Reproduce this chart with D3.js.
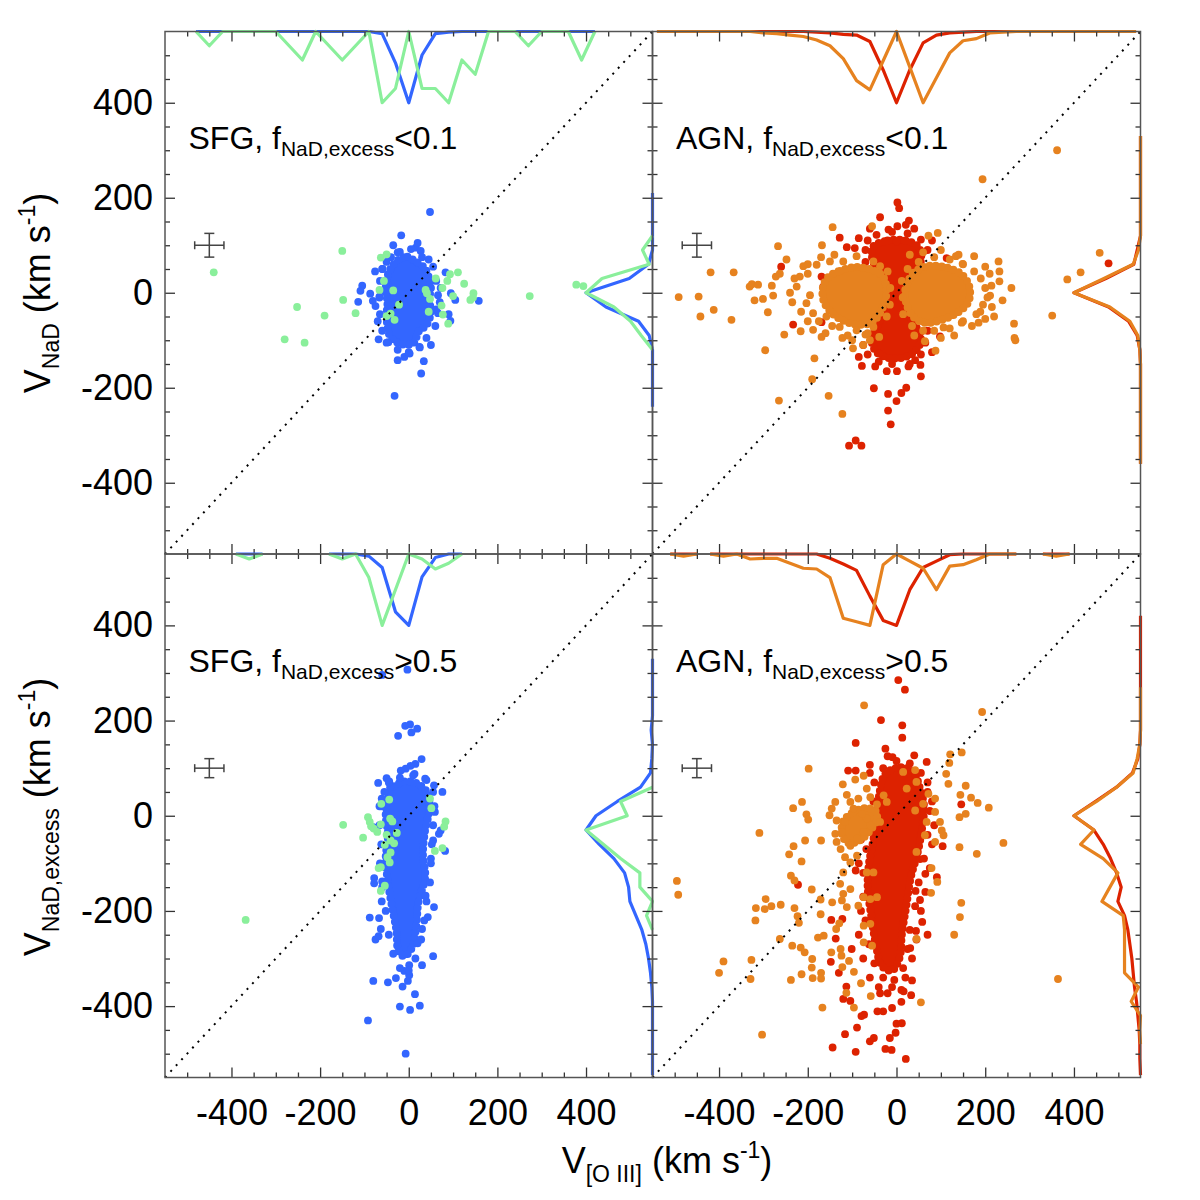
<!DOCTYPE html>
<html>
<head>
<meta charset="utf-8">
<script src="https://cdn.jsdelivr.net/npm/d3@7"></script>
<style>
  body { margin: 0; background: #fff; }
  text { font-family: "Liberation Sans", Arial, Helvetica, sans-serif; }
</style>
</head>
<body>
<svg id="chart" width="1200" height="1200"></svg>
<script>
// ---- axis values ----
const axisDomain = [-550, 550];
const majorTicks = [-400, -200, 0, 200, 400];
const minorTicks = [-500, -450, -350, -300, -250, -150, -100, -50, 50, 100, 150, 250, 300, 350, 450, 500];
const errCenter = [-450, 100];
const errTop = [33, 25];     // half widths (x, y) in km/s, upper row
const errBottom = [33, 20];  // lower row

// ---- top-left: SFG, f < 0.1 ----
const tlBlueCore = [[-25,68],[-3,76],[12,68],[36,52],[46,30],[50,10],[46,-15],[50,-40],[40,-68],[22,-82],[12,-105],[-5,-110],[-25,-105],[-42,-92],[-48,-72],[-50,-45],[-48,-20],[-52,5],[-48,35],[-40,52]];
const tlBlue = [[48,170],[-17,121],[-20,86],[16,95],[27,88],[-76,45],[-59,50],[83,43],[95,-1],[105,-15],[158,-17],[-105,15],[-109,4],[-87,-2],[-66,-8],[-114,-19],[-81,-17],[-75,-28],[-68,-98],[-46,-104],[-25,-142],[-10,-135],[2,-128],[24,-114],[34,-144],[28,-170],[-32,-217],[90,-45],[94,-59],[66,-43],
  [-50,65],[-25,85],[5,92],[30,75],[55,55],[62,25],[66,-5],[62,-35],[60,-70],[40,-95],[25,-115],[0,-125],[-25,-120],[-50,-105],[-60,-80],[-65,-45],[-66,-10],[-65,25],[-60,50],[-40,75],[45,70],[72,10],[70,-20],[-35,100],[20,105],[-70,-60],[50,-110]];
const tlGreen = [[-440,43],[-150,88],[-63,74],[-50,81],[-56,25],[-66,6],[-35,5],[-148,-15],[-252,-30],[-190,-48],[-280,-98],[-235,-105],[-120,-43],[-50,-49],[-41,-44],[-32,-57],[-22,-25],[38,6],[41,-1],[48,-13],[61,30],[76,10],[87,25],[93,39],[111,43],[125,19],[146,-1],[139,-15],[145,-10],[100,-7],[74,-27],[77,-46],[89,-65],[45,-40],[273,-7],[378,17],[394,14]];
const tlTopBlue = [[-480,0],[-450,0],[-420,0],[-390,0],[-360,0],[-330,0],[-300,0],[-270,0],[-240,0],[-210,0],[-180,0],[-150,0],[-120,0],[-90,0],[-60,0.03],[-30,0.44],[0,1],[30,0.33],[60,0.03],[90,0.01],[120,0],[150,0],[180,0],[210,0],[240,0],[270,0],[300,0],[330,0],[360,0],[390,0],[420,0]];
const tlTopGreen = [[-480,0],[-450,0.2],[-420,0],[-390,0],[-360,0],[-330,0],[-300,0],[-270,0.2],[-240,0.4],[-210,0],[-180,0.2],[-150,0.4],[-120,0.2],[-90,0],[-60,1],[-30,0.8],[0,0],[30,0.8],[60,0.8],[90,1],[120,0.4],[150,0.6],[180,0],[210,0],[240,0],[270,0.2],[300,0],[330,0],[360,0],[390,0.4],[420,0]];
const tlSideBlue = [[210,0],[180,0],[150,0],[120,0],[90,0],[60,0.06],[30,0.35],[0,1],[-30,0.7],[-60,0.21],[-90,0.05],[-120,0],[-150,0],[-180,0],[-210,0],[-240,0]];
const tlSideGreen = [[120,0],[90,0.15],[60,0.05],[30,0.76],[0,1],[-30,0.58],[-60,0.33],[-90,0.17],[-120,0]];

// ---- top-right: AGN, f < 0.1 ----
const trRedCore = [[-52,98],[-20,110],[20,110],[48,98],[56,75],[46,45],[28,20],[22,-20],[36,-60],[55,-92],[46,-120],[20,-135],[-20,-137],[-46,-124],[-56,-98],[-38,-60],[-28,-20],[-32,20],[-46,50],[-56,80]];
const trRed = [[2,190],[6,178],[-37,159],[-18,133],[28,152],[21,143],[2,140],[0,108],[-128,116],[-112,96],[-94,94],[-260,55],[-169,34],[-165,13],[-169,-62],[-233,-67],[113,73],[98,-92],[478,62],[-78,-154],[-48,-155],[-22,-165],[1,-165],[27,-155],[54,-152],[55,-176],[42,-142],[-51,-201],[-19,-213],[11,-211],[22,-200],[0,-228],[-19,-248],[-13,-277],[-107,-322],[-92,-311],[-79,-322],[-39,-128],
  [-65,110],[-45,122],[-10,128],[25,125],[55,112],[70,90],[-70,90],[65,-105],[55,-130],[30,-150],[-10,-150],[-40,-145],[-65,-130],[-75,-110],[70,-80],[-70,65],[60,-60],[-85,115],[80,110],[-60,135],[40,135],[-85,-135],[80,-125]];
const trOrangeCoreL = [[-155,32],[-128,46],[-90,54],[-56,48],[-32,36],[-23,13],[-25,-14],[-37,-42],[-56,-63],[-90,-67],[-122,-58],[-146,-42],[-164,-18],[-166,10]];
const trOrangeCoreR = [[24,18],[38,42],[70,56],[108,54],[142,42],[160,23],[166,0],[160,-23],[137,-42],[100,-58],[62,-63],[38,-51],[24,-28],[19,0]];
const trOrange = [[362,300],[194,239],[-144,138],[-55,140],[93,126],[72,120],[-267,98],[-168,100],[-419,43],[-367,43],[-491,-9],[-446,-8],[-412,-36],[-442,-50],[-372,-57],[-331,13],[-326,18],[-312,17],[-320,-16],[-301,-13],[-290,-41],[-278,-6],[-281,15],[-272,34],[-263,40],[-248,70],[-253,-88],[-296,-121],[-216,-81],[-188,-78],[-169,-93],[-122,-95],[-185,-138],[-190,-182],[-265,-227],[-153,-217],[-122,-255],[230,66],[232,45],[232,24],[259,10],[239,-16],[265,-65],[266,-95],[268,-100],[175,77],[149,61],[134,77],[214,15],[211,-6],[189,-40],[185,-63],[147,-63],[106,-73],[88,-122],[385,28],[415,43],[458,84],[351,-48],[-98,-117],[-75,-110],[-65,-85],[-39,-93],[64,-102],
  [-218,34],[-225,13],[-203,-22],[-188,-43],[-158,-50],[-128,-72],[-90,-79],[-52,-72],[-22,-50],[-210,56],[-180,59],[-150,66],[-120,66],[-90,77],[-52,66],[-37,56],[-240,0],[-200,40],[-195,-5],[-175,-60],[-110,-90],[-70,-88],[-15,-25],[-14,10],[-20,45],
  [190,30],[200,10],[205,-10],[195,-25],[180,-45],[150,-60],[120,-75],[85,-80],[60,-80],[35,-70],[15,-45],[14,-10],[12,25],[25,50],[50,65],[85,75],[120,70],[150,60],[175,45],
  [-230,30],[-235,-20],[-215,-40],[-200,60],[-170,75],[-140,80],[-100,-100],[-60,-100],[-145,-70],[-200,-60],[-160,-85],[210,40],[215,-30],[200,-55],[170,-70],[130,-90],[100,-95],[40,-90],[30,80],[60,85],[100,90],[140,80],[200,55],[220,-50]];
const trTopRed = [[-540,0],[-510,0],[-480,0],[-450,0],[-420,0],[-390,0],[-360,0],[-330,0],[-300,0],[-270,0],[-240,0],[-210,0],[-180,0.01],[-150,0.02],[-120,0.04],[-90,0.05],[-60,0.14],[-30,0.54],[0,1],[30,0.54],[60,0.16],[90,0.05],[120,0.02],[150,0.01],[180,0],[210,0],[240,0],[270,0],[300,0],[330,0],[360,0],[390,0],[420,0],[450,0],[480,0],[510,0],[540,0]];
const trTopOrange = [[-540,0],[-510,0],[-480,0],[-450,0],[-420,0],[-390,0],[-360,0],[-330,0],[-300,0.02],[-270,0.03],[-240,0.05],[-210,0.07],[-180,0.12],[-150,0.2],[-120,0.38],[-90,0.69],[-60,0.82],[-30,0.41],[0,0],[30,0.5],[60,1],[90,0.65],[120,0.3],[150,0.13],[180,0.1],[210,0.02],[240,0.01],[270,0],[300,0],[330,0],[360,0],[390,0],[420,0],[450,0],[480,0],[510,0],[540,0]];
const trSideRed = [[330,0],[300,0],[270,0],[240,0],[210,0],[180,0],[150,0],[120,0],[90,0.05],[60,0.1],[30,0.52],[0,1],[-30,0.48],[-60,0.18],[-90,0.05],[-120,0.01],[-150,0],[-180,0],[-210,0],[-240,0],[-270,0],[-300,0],[-330,0],[-360,0]];
const trSideOrange = [[330,0],[300,0],[270,0],[240,0],[210,0],[180,0],[150,0],[120,0],[90,0.03],[60,0.11],[30,0.55],[0,1],[-30,0.46],[-60,0.16],[-90,0.04],[-120,0.01],[-150,0],[-180,0],[-210,0],[-240,0],[-270,0],[-300,0],[-330,0],[-360,0]];

// ---- bottom-left: SFG, f > 0.5 ----
const blBlueCore = [[-38,58],[-10,72],[18,68],[42,48],[46,10],[37,-30],[32,-80],[37,-130],[22,-180],[17,-230],[8,-276],[-10,-295],[-23,-285],[-28,-240],[-38,-190],[-47,-140],[-52,-90],[-47,-40],[-52,0],[-47,35]];
const blBlue = [[-7,-500],[3,192],[-8,189],[19,183],[6,175],[-24,168],[29,119],[15,109],[4,105],[-7,99],[-18,95],[13,88],[-50,79],[-44,72],[-69,69],[-42,60],[37,78],[57,64],[76,50],[-61,36],[-66,20],[59,8],[72,-31],[68,-38],[55,-52],[82,-74],[50,-90],[-80,-24],[-78,-131],[-78,-142],[-60,-138],[-61,-180],[-88,-214],[-67,-215],[-63,-238],[-75,-260],[-68,-253],[38,-168],[57,-192],[43,-213],[30,-238],[20,-268],[55,-295],[30,-314],[1,-314],[-29,-341],[-47,-350],[-80,-347],[-14,-359],[-2,-347],[1,-335],[-10,-326],[14,-375],[-20,-401],[3,-408],[25,-399],[-92,-430],[-3,307],[-60,296],
  [-55,50],[-62,20],[-66,-20],[-62,-60],[-65,-100],[-60,-150],[-52,-200],[-45,-250],[-35,-290],[-20,-320],[0,-325],[15,-300],[28,-260],[35,-220],[40,-180],[48,-140],[50,-100],[52,-60],[55,-20],[58,20],[55,50],[40,75],[10,85],[-20,80],[-45,70]];
const blGreen = [[-368,-219],[-148,-19],[-92,-3],[-88,-13],[-85,-22],[-79,-27],[-71,-34],[-103,-46],[-63,-18],[-62,25],[-44,34],[-42,-6],[-37,-12],[-27,-36],[-50,-40],[-41,-52],[-33,-58],[-54,-61],[-41,-77],[-48,-87],[-43,-98],[-63,-108],[-68,-110],[-54,-147],[-63,-158],[48,36],[51,16],[83,-12],[80,-23],[59,-74],[76,-68]];
const blTopBlue = [[-390,0],[-360,0],[-330,0],null,[-180,0],[-150,0],[-120,0],[-90,0.03],[-60,0.19],[-30,0.81],[0,1],[30,0.32],[60,0.05],[90,0],[120,0]];
const blTopGreen = [[-390,0],[-360,0.07],[-330,0],null,[-180,0],[-150,0.07],[-120,0],[-90,0.33],[-60,1],[-30,0.5],[0,0],[30,0.07],[60,0.21],[90,0.13],[120,0]];
const blSideBlue = [[330,0],[300,0],[270,0],[240,0],[210,0],[180,0.02],[150,0],[120,0.01],[90,0.03],[60,0.18],[30,0.53],[0,0.85],[-30,1],[-60,0.8],[-90,0.58],[-120,0.42],[-150,0.36],[-180,0.34],[-210,0.25],[-240,0.16],[-270,0.1],[-300,0.06],[-330,0.03],[-360,0.01],[-390,0],[-420,0],[-450,0],[-480,0],[-510,0],[-545,0]];
const blSideGreen = [[60,0],[30,0.48],[0,0.38],[-30,1],[-60,0.74],[-90,0.48],[-120,0.19],[-150,0.19],[-180,0],[-210,0.09],[-240,0]];

// ---- bottom-right: AGN, f > 0.5 ----
const brRedCore = [[-25,88],[10,102],[38,92],[52,60],[62,20],[57,-30],[47,-80],[32,-130],[22,-190],[12,-250],[7,-298],[-10,-325],[-33,-316],[-47,-268],[-57,-210],[-65,-150],[-62,-100],[-52,-50],[-43,0],[-38,50]];
const brRed = [[19,265],[4,285],[-35,201],[13,190],[13,164],[-92,153],[-25,141],[-9,123],[40,127],[68,113],[-60,107],[-109,95],[-92,95],[146,24],[104,-64],[53,-91],[91,-129],[53,-177],[43,-158],[58,-223],[44,-242],[70,-250],[31,-278],[35,-346],[16,-369],[33,-377],[11,-391],[-10,-404],[-30,-411],[-43,-411],[-73,-418],[-60,-474],[-51,-467],[-15,-467],[-25,-490],[-11,-492],[21,-511],[0,-437],[12,-436],[-2,-456],[-92,-496],[-116,-459],[-144,-487],[-89,-445],[-120,-385],[-104,-389],[-113,-359],[-79,-421],[-37,-373],[-20,-373],[11,-366],[-101,-280],[-137,-258],[-148,-307],[-130,-330],[-147,-219],[-122,-217],[-222,-145],[-92,-115],[65,-122],
  [-50,70],[-30,100],[0,115],[30,110],[55,90],[70,50],[75,10],[70,-40],[62,-90],[50,-140],[42,-190],[30,-240],[25,-280],[15,-320],[-5,-345],[-30,-340],[-50,-310],[-62,-270],[-70,-220],[-75,-170],[-75,-120],[-68,-70],[-58,-20],[-52,30],
  [-80,-50],[-85,-100],[-80,-200],[-85,-250],[-75,-300],[-60,-340],[-40,-360],[-10,-360],[20,-340],[35,-300],[45,-260],[55,-200],[65,-160],[75,-110],[80,-60],[85,-20],[80,30],[70,70],[-60,90],[-20,125]];
const brOrangeCore = [[-120,-12],[-98,7],[-70,16],[-48,11],[-44,-6],[-57,-28],[-80,-50],[-106,-58],[-122,-42]];
const brOrange = [[-73,232],[193,218],[147,133],[121,129],[119,111],[112,88],[117,67],[156,63],[144,44],[168,38],[183,27],[208,17],[156,4],[142,-3],[106,-41],[142,-66],[181,-80],[241,-57],[364,-343],[79,-110],[92,-139],[78,-162],[146,-183],[143,-213],[130,-250],[45,-259],[55,-392],[-198,99],[-213,29],[-233,16],[-203,3],[-199,-8],[-309,-36],[-206,-52],[-170,-52],[-232,-64],[-242,-81],[-214,-96],[-238,-126],[-230,-136],[-191,-155],[-495,-137],[-492,-166],[-295,-175],[-317,-194],[-297,-196],[-282,-190],[-261,-187],[-318,-220],[-230,-194],[-223,-211],[-220,-225],[-171,-207],[-171,-176],[-263,-259],[-235,-273],[-216,-277],[-207,-287],[-190,-301],[-191,-319],[-189,-341],[-170,-330],[-170,-342],[-214,-333],[-238,-345],[-327,-303],[-329,-343],[-390,-306],[-400,-330],[-303,-460],[-167,-403],[-177,-256],[-164,-252],[-147,-287],[-124,-294],[-122,-318],[-107,-305],[-96,-328],[-113,-372],[-80,-352],[-58,-379],[-96,-403],[-126,-280],[-136,-238],[-129,-226],[-145,-182],
  [-121,66],[-112,44],[-93,76],[-74,84],[-138,29],[-146,15],[-151,1],[-135,-10],[-116,-13],[-138,-38],[-123,-34],[-135,-55],[-126,-70],[-104,-63],[-89,-48],[-74,-34],[-59,-20],[-67,-6],[-78,4],[-97,15],[-86,36],[-104,29],[-67,57],[-59,39],[-29,43],[-22,29],[-44,24],[-37,-13],[-89,-84],[-116,-87],[-104,-98],[-120,-119],[-127,-143],[-120,-164],[-104,-154],[-123,-178],[-112,-192],[-86,-189],[-74,-171],[-59,-175],[-44,-171],[-67,-119],[-52,-119],[-74,-231],[-59,-227],[-74,-266],[-55,-273],[45,71],[42,96],[72,46],[87,36],[60,25],[42,11],[68,-13],[87,8],[98,-13],[102,-31],[87,-55],[64,-41],[45,-76],[15,92],[23,57]];
const brTopRed = [[-510,0],[-480,0],[-450,0],null,[-420,0],[-390,0],[-360,0],[-330,0],[-300,0],[-270,0],[-240,0],[-210,0],[-180,0],[-150,0.06],[-120,0.14],[-90,0.23],[-60,0.59],[-30,0.93],[0,1],[30,0.5],[60,0.19],[90,0.1],[120,0.01],[150,0],[180,0],[210,0],[240,0],[270,0],null,[330,0],[360,0],[390,0]];
const brTopOrange = [[-510,0],[-480,0.03],[-450,0],null,[-420,0],[-390,0.03],[-360,0],[-330,0.07],[-300,0.06],[-270,0.06],[-240,0.13],[-210,0.2],[-180,0.21],[-150,0.33],[-120,0.9],[-90,0.95],[-60,1],[-30,0.15],[0,0],[30,0.1],[60,0.2],[90,0.5],[120,0.17],[150,0.15],[180,0.08],[210,0],[240,0],[270,0],null,[330,0],[360,0.03],[390,0]];
const brSideRed = [[420,0],[390,0],[360,0],[330,0],[300,0],[270,0],[240,0],[210,0],[180,0],[150,0.01],[120,0.04],[90,0.12],[60,0.36],[30,0.68],[0,1],[-30,0.7],[-60,0.56],[-90,0.45],[-120,0.36],[-150,0.29],[-180,0.34],[-210,0.24],[-240,0.19],[-270,0.16],[-300,0.13],[-330,0.11],[-360,0.09],[-390,0.06],[-420,0.04],[-450,0.02],[-480,0.01],[-510,0.01],[-545,0]];
const brSideOrange = [[270,0],[240,0],[210,0],[180,0],[150,0.01],[120,0.05],[90,0.11],[60,0.36],[30,0.66],[0,1],[-30,0.7],[-60,0.9],[-90,0.56],[-120,0.34],[-150,0.46],[-180,0.58],[-210,0.26],[-240,0.24],[-270,0.24],[-300,0.24],[-330,0.24],[-360,0.03],[-390,0.14],[-420,0],[-450,0.01],[-480,0]];

// ---- styles ----
const BLUE = "#3366ff", GREEN = "#8aef9b", RED = "#dd2200", ORANGE = "#e6821f";
const FONT = '"Liberation Sans", Arial, Helvetica, sans-serif';
const histDepth = 150;   // peak of a marginal histogram, km/s below/left of the frame
const dotR = 3.9;

const svg = d3.select("#chart");

const panels = [
  { xr: [165, 652.5], yr: [554, 31.5], name: "SFG", cut: "<0.1", err: errTop, xlab: false, ylab: true,
    groups: [{ core: [tlBlueCore], pts: tlBlue, color: BLUE }, { core: [], pts: tlGreen, color: GREEN }],
    top: [[tlTopBlue, BLUE], [tlTopGreen, GREEN]], side: [[tlSideBlue, BLUE], [tlSideGreen, GREEN]] },
  { xr: [652.5, 1140.5], yr: [554, 31.5], name: "AGN", cut: "<0.1", err: errTop, xlab: false, ylab: false,
    groups: [{ core: [trRedCore], pts: trRed, color: RED }, { core: [trOrangeCoreL, trOrangeCoreR], pts: trOrange, color: ORANGE }],
    top: [[trTopRed, RED], [trTopOrange, ORANGE]], side: [[trSideRed, RED], [trSideOrange, ORANGE]] },
  { xr: [165, 652.5], yr: [1077.5, 554], name: "SFG", cut: ">0.5", err: errBottom, xlab: true, ylab: true,
    groups: [{ core: [blBlueCore], pts: blBlue, color: BLUE }, { core: [], pts: blGreen, color: GREEN }],
    top: [[blTopBlue, BLUE], [blTopGreen, GREEN]], side: [[blSideBlue, BLUE], [blSideGreen, GREEN]] },
  { xr: [652.5, 1140.5], yr: [1077.5, 554], name: "AGN", cut: ">0.5", err: errBottom, xlab: true, ylab: false,
    groups: [{ core: [brRedCore], pts: brRed, color: RED }, { core: [brOrangeCore], pts: brOrange, color: ORANGE }],
    top: [[brTopRed, RED], [brTopOrange, ORANGE]], side: [[brSideRed, RED], [brSideOrange, ORANGE]] }
];

panels.forEach(function (p) {
  const g = svg.append("g");
  const xs = d3.scaleLinear().domain(axisDomain).range(p.xr);
  const ys = d3.scaleLinear().domain(axisDomain).range(p.yr);

  // scatter: dense cores as filled blobs with a beaded (dotty) rim, then the single points
  const blob = d3.line().curve(d3.curveCatmullRomClosed).x(d => xs(d[0])).y(d => ys(d[1]));
  p.groups.forEach(function (grp) {
    grp.core.forEach(function (c) {
      g.append("path").attr("d", blob(c)).attr("fill", grp.color);
      g.append("path").attr("d", blob(c)).attr("fill", "none")
        .attr("stroke", grp.color).attr("stroke-width", 8)
        .attr("stroke-linecap", "round").attr("stroke-dasharray", "0 6");
    });
    g.append("g").selectAll("circle").data(grp.pts).join("circle")
      .attr("cx", d => xs(d[0])).attr("cy", d => ys(d[1]))
      .attr("r", dotR).attr("fill", grp.color);
  });

  // marginal histograms
  const topLine = d3.line().defined(d => d !== null)
    .x(d => xs(d[0])).y(d => ys(axisDomain[1] - d[1] * histDepth));
  const sideLine = d3.line().defined(d => d !== null)
    .x(d => xs(axisDomain[1] - d[1] * histDepth)).y(d => ys(d[0]));
  p.top.forEach(function (h) {
    g.append("path").attr("d", topLine(h[0])).attr("fill", "none")
      .attr("stroke", h[1]).attr("stroke-width", 3.2).attr("stroke-linejoin", "round");
  });
  p.side.forEach(function (h) {
    g.append("path").attr("d", sideLine(h[0])).attr("fill", "none")
      .attr("stroke", h[1]).attr("stroke-width", 3.2).attr("stroke-linejoin", "round");
  });

  // one-to-one line
  g.append("line")
    .attr("x1", xs(axisDomain[0])).attr("y1", ys(axisDomain[0]))
    .attr("x2", xs(axisDomain[1])).attr("y2", ys(axisDomain[1]))
    .attr("stroke", "#000").attr("stroke-width", 2).attr("stroke-dasharray", "2 6");

  // typical error bar
  const ex = errCenter[0], ey = errCenter[1];
  const eg = g.append("g").attr("stroke", "#444").attr("stroke-width", 1.5);
  eg.append("line").attr("x1", xs(ex - p.err[0])).attr("x2", xs(ex + p.err[0])).attr("y1", ys(ey)).attr("y2", ys(ey));
  eg.append("line").attr("x1", xs(ex)).attr("x2", xs(ex)).attr("y1", ys(ey - p.err[1])).attr("y2", ys(ey + p.err[1]));
  [ex - p.err[0], ex + p.err[0]].forEach(v => eg.append("line")
    .attr("x1", xs(v)).attr("x2", xs(v)).attr("y1", ys(ey) - 4).attr("y2", ys(ey) + 4));
  [ey - p.err[1], ey + p.err[1]].forEach(v => eg.append("line")
    .attr("x1", xs(ex) - 5).attr("x2", xs(ex) + 5).attr("y1", ys(v)).attr("y2", ys(v)));

  // axes, ticks pointing inwards on all four sides
  const fmt = d => String(d);
  const sides = [
    [d3.axisBottom(xs), p.yr[0], 0, p.xlab, 22],
    [d3.axisTop(xs), p.yr[1], 0, false, 22],
    [d3.axisLeft(ys), 0, p.xr[0], p.ylab, 12],
    [d3.axisRight(ys), 0, p.xr[1], false, 12]
  ];
  sides.forEach(function (s) {
    const major = s[0].tickValues(majorTicks).tickSize(-10).tickSizeOuter(0)
      .tickPadding(s[4]).tickFormat(s[3] ? fmt : "");
    const ax = g.append("g").attr("transform", `translate(${s[2]},${s[1]})`).call(major);
    ax.select(".domain").remove();
    ax.selectAll("line").attr("stroke", "#333").attr("stroke-width", 1.3);
    ax.attr("font-size", 36).attr("font-family", FONT);
    ax.selectAll("text").attr("fill", "#000");
    const minor = s[0].tickValues(minorTicks).tickSize(-5).tickFormat("");
    const mx = g.append("g").attr("transform", `translate(${s[2]},${s[1]})`).call(minor);
    mx.select(".domain").remove();
    mx.selectAll("line").attr("stroke", "#333").attr("stroke-width", 1.3);
  });

  g.append("rect")
    .attr("x", p.xr[0]).attr("y", p.yr[1])
    .attr("width", p.xr[1] - p.xr[0]).attr("height", p.yr[0] - p.yr[1])
    .attr("fill", "none").attr("stroke", "#555").attr("stroke-width", 1.5);

  // panel label
  const lab = g.append("text").attr("x", xs(-497)).attr("y", ys(302))
    .attr("font-size", 32).attr("fill", "#000");
  lab.append("tspan").text(p.name + ", f");
  lab.append("tspan").attr("font-size", 21).attr("dy", 7).text("NaD,excess");
  lab.append("tspan").attr("dy", -7).text(p.cut);
});

// axis titles
function yTitle(cy, sub) {
  const t = svg.append("text")
    .attr("transform", `translate(50,${cy}) rotate(-90)`)
    .attr("text-anchor", "middle").attr("font-size", 36).attr("fill", "#000");
  t.append("tspan").text("V");
  t.append("tspan").attr("font-size", 23).attr("dy", 9).text(sub);
  t.append("tspan").attr("dy", -9).text(" (km s");
  t.append("tspan").attr("font-size", 23).attr("dy", -15).text("-1");
  t.append("tspan").attr("dy", 15).text(")");
}
yTitle(293, "NaD");
yTitle(817, "NaD,excess");

const xt = svg.append("text").attr("x", 667).attr("y", 1173)
  .attr("text-anchor", "middle").attr("font-size", 36).attr("fill", "#000");
xt.append("tspan").text("V");
xt.append("tspan").attr("font-size", 23).attr("dy", 9).text("[O III]");
xt.append("tspan").attr("dy", -9).text(" (km s");
xt.append("tspan").attr("font-size", 23).attr("dy", -15).text("-1");
xt.append("tspan").attr("dy", 15).text(")");
</script>
</body>
</html>
